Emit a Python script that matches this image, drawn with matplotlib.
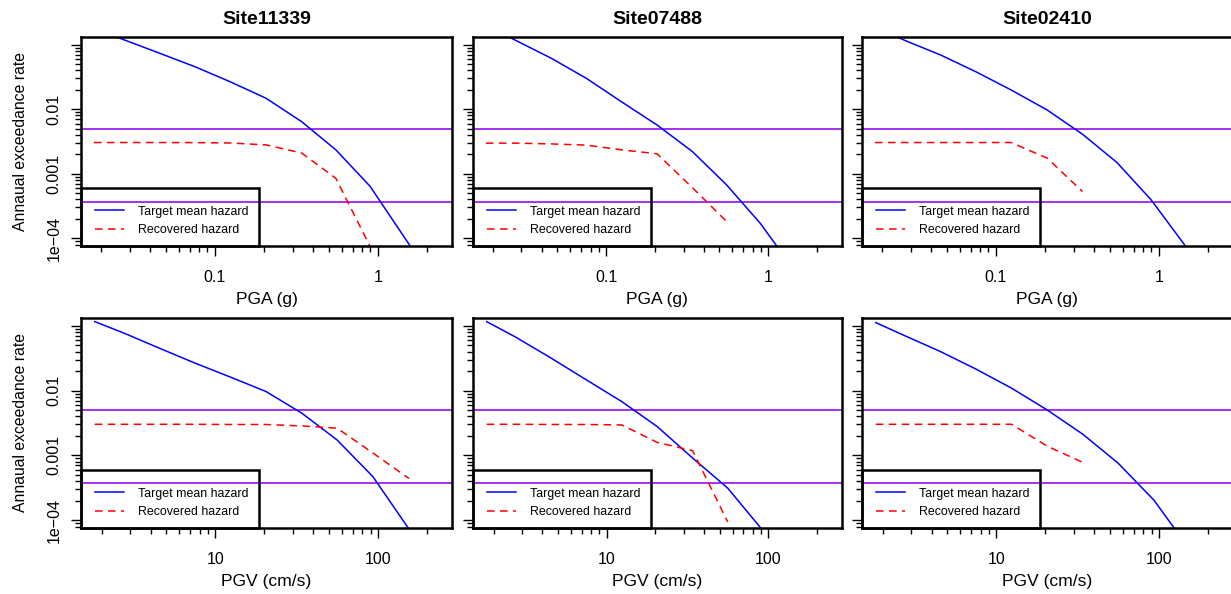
import numpy as np
import matplotlib
matplotlib.use("Agg")
import matplotlib.pyplot as plt
from matplotlib.patches import Rectangle
from matplotlib.ticker import LogLocator, FixedLocator, FuncFormatter, NullFormatter

plt.rcParams["font.family"] = ["Liberation Sans", "DejaVu Sans"]

# ---------------- data ----------------
sites = ["Site11339", "Site07488", "Site02410"]

pga_levels = [0.0181, 0.0280, 0.0460, 0.0755, 0.124, 0.206, 0.340, 0.552, 0.895, 1.46, 2.34]
pgv_levels = [1.81, 2.74, 4.53, 7.5, 12.4, 20.5, 34.0, 56.0, 93.0, 155.0, 234.0]

# Target mean hazard (annual exceedance rate) - PGA
pga_target_11339 = [0.179, 0.118, 0.0735, 0.0456, 0.0267, 0.0148, 0.00644, 0.00235, 0.00064, 1.02e-4, 1.7e-5]
pga_target_07488 = [0.20, 0.115, 0.0614, 0.0301, 0.0131, 0.0057, 0.00221, 6.76e-4, 1.69e-4, 3.1e-5, 5e-6]
pga_target_02410 = [0.186, 0.115, 0.069, 0.038, 0.0199, 0.00975, 0.0041, 0.0015, 3.96e-4, 7.5e-5, 1e-5]

# Recovered hazard - PGA
pga_recovered_11339 = [0.00305, 0.00305, 0.00305, 0.00304, 0.0030, 0.0028, 0.0021, 0.00085, 7.5e-5]
pga_recovered_07488 = [0.00298, 0.00298, 0.0029, 0.00278, 0.00235, 0.00204, 0.00061, 0.000183]
pga_recovered_02410 = [0.00305, 0.00305, 0.00305, 0.00305, 0.00305, 0.00175, 0.00053]

# Target mean hazard - PGV
pgv_target_11339 = [0.116, 0.077, 0.045, 0.0265, 0.0161, 0.00966, 0.00448, 0.00173, 4.7e-4, 7.3e-5, 1e-5]
pgv_target_07488 = [0.116, 0.0667, 0.0317, 0.0146, 0.00676, 0.00279, 9.1e-4, 3.13e-4, 6.8e-5, 1.5e-5, 3e-6]
pgv_target_02410 = [0.112, 0.070, 0.040, 0.0214, 0.0109, 0.00503, 0.00212, 7.6e-4, 2.04e-4, 3.5e-5, 8e-6]

# Recovered hazard - PGV
pgv_recovered_11339 = [0.00302, 0.00302, 0.00302, 0.00302, 0.0030, 0.0030, 0.00285, 0.00263, 0.00109, 0.00044]
pgv_recovered_07488 = [0.00302, 0.00302, 0.0030, 0.0030, 0.00295, 0.00159, 0.00118, 9.4e-5]
pgv_recovered_02410 = [0.00302, 0.00302, 0.00302, 0.00302, 0.00302, 0.00139, 0.00078]

# reference hazard levels (horizontal lines)
hazard_levels = [0.005, 0.00037]

x_labels = ["PGA (g)", "PGV (cm/s)"]
y_label = "Annaual exceedance rate"
legend_labels = ["Target mean hazard", "Recovered hazard"]

pga_xlim = (0.01507, 2.85)
pgv_xlim = (1.49, 285.0)
y_lim = (10 ** -4.12, 10 ** -0.88)
y_label_ticks = [1e-4, 1e-3, 1e-2]
y_label_text = ["1e\u221204", "0.001", "0.01"]

# ---------------- layout ----------------
W, H = 1231, 594
fig = plt.figure(figsize=(W / 100, H / 100), dpi=100)

cols = [(81, 452), (473, 842), (862, 1233)]
rows = [(37, 246), (318, 528)]
LEG_W, LEG_H = 178, 58  # legend box size in pixels

panels = [
    [(pga_levels, pga_target_11339, pga_recovered_11339),
     (pga_levels, pga_target_07488, pga_recovered_07488),
     (pga_levels, pga_target_02410, pga_recovered_02410)],
    [(pgv_levels, pgv_target_11339, pgv_recovered_11339),
     (pgv_levels, pgv_target_07488, pgv_recovered_07488),
     (pgv_levels, pgv_target_02410, pgv_recovered_02410)],
]
xlims = [pga_xlim, pgv_xlim]

BLUE = "#0000FF"
RED = "#FF0000"
PURPLE = "#A020F0"


def xfmt(v, pos):
    lv = np.log10(v)
    if abs(lv - round(lv)) < 1e-6:
        return "%g" % v
    return ""


for r, (top, bot) in enumerate(rows):
    for c, (left, right) in enumerate(cols):
        axw, axh = right - left, bot - top
        ax = fig.add_axes([left / W, 1 - bot / H, axw / W, axh / H])
        xs, target, recovered = panels[r][c]
        ax.set_xscale("log")
        ax.set_yscale("log")

        for hl in hazard_levels:
            ax.axhline(hl, color=PURPLE, lw=1.3, zorder=1)
        ax.plot(xs[:len(target)], target, color=BLUE, lw=1.1, zorder=2,
                label=legend_labels[0])
        ax.plot(xs[:len(recovered)], recovered, color=RED, lw=1.1, zorder=2,
                dashes=(5.0, 3.5), label=legend_labels[1])

        ax.set_xlim(*xlims[r])
        ax.set_ylim(*y_lim)

        # x ticks
        ax.xaxis.set_major_locator(FixedLocator(
            [10.0 ** e for e in range(-3, 4)]))
        ax.xaxis.set_major_formatter(FuncFormatter(xfmt))
        ax.xaxis.set_minor_locator(LogLocator(base=10, subs=np.arange(2, 10), numticks=50))
        ax.xaxis.set_minor_formatter(NullFormatter())

        # y ticks
        ax.yaxis.set_major_locator(FixedLocator(y_label_ticks + [0.1]))
        if c == 0:
            ax.yaxis.set_major_formatter(FuncFormatter(
                lambda v, p: dict(zip(y_label_ticks, y_label_text)).get(v, "")))
        else:
            ax.yaxis.set_major_formatter(NullFormatter())
        ax.yaxis.set_minor_locator(LogLocator(base=10, subs=np.arange(2, 10), numticks=50))
        ax.yaxis.set_minor_formatter(NullFormatter())

        ax.tick_params(which="major", length=7, width=1.0, labelsize=11.5, color="black")
        ax.tick_params(which="minor", length=4, width=1.0, color="black")
        ax.tick_params(axis="x", which="major", pad=10.5)
        ax.tick_params(axis="y", which="major", pad=7)
        for lab in ax.get_yticklabels():
            lab.set_rotation(90)
            lab.set_va("center")

        for sp in ax.spines.values():
            sp.set_linewidth(1.8)
            sp.set_color("black")

        ax.set_xlabel(x_labels[r], fontsize=12.6, labelpad=4.5)
        if c == 0:
            ax.set_ylabel(y_label, fontsize=11.3, labelpad=13)
        if r == 0:
            ax.set_title(sites[c], fontsize=14, fontweight="bold", pad=9)

        # legend entries (frameless) plus an R-style box
        ax.legend(loc="lower left", bbox_to_anchor=(0.0, -4.0 / axh),
                  borderaxespad=0, fontsize=8.9, handlelength=2.4,
                  handletextpad=1.1, borderpad=1.1, labelspacing=0.55,
                  frameon=False)
        ax.add_patch(Rectangle((0, 0), LEG_W / axw, LEG_H / axh,
                               transform=ax.transAxes, facecolor="none",
                               edgecolor="black", lw=1.8, zorder=5,
                               clip_on=False))

fig.savefig("out.png", dpi=100)
